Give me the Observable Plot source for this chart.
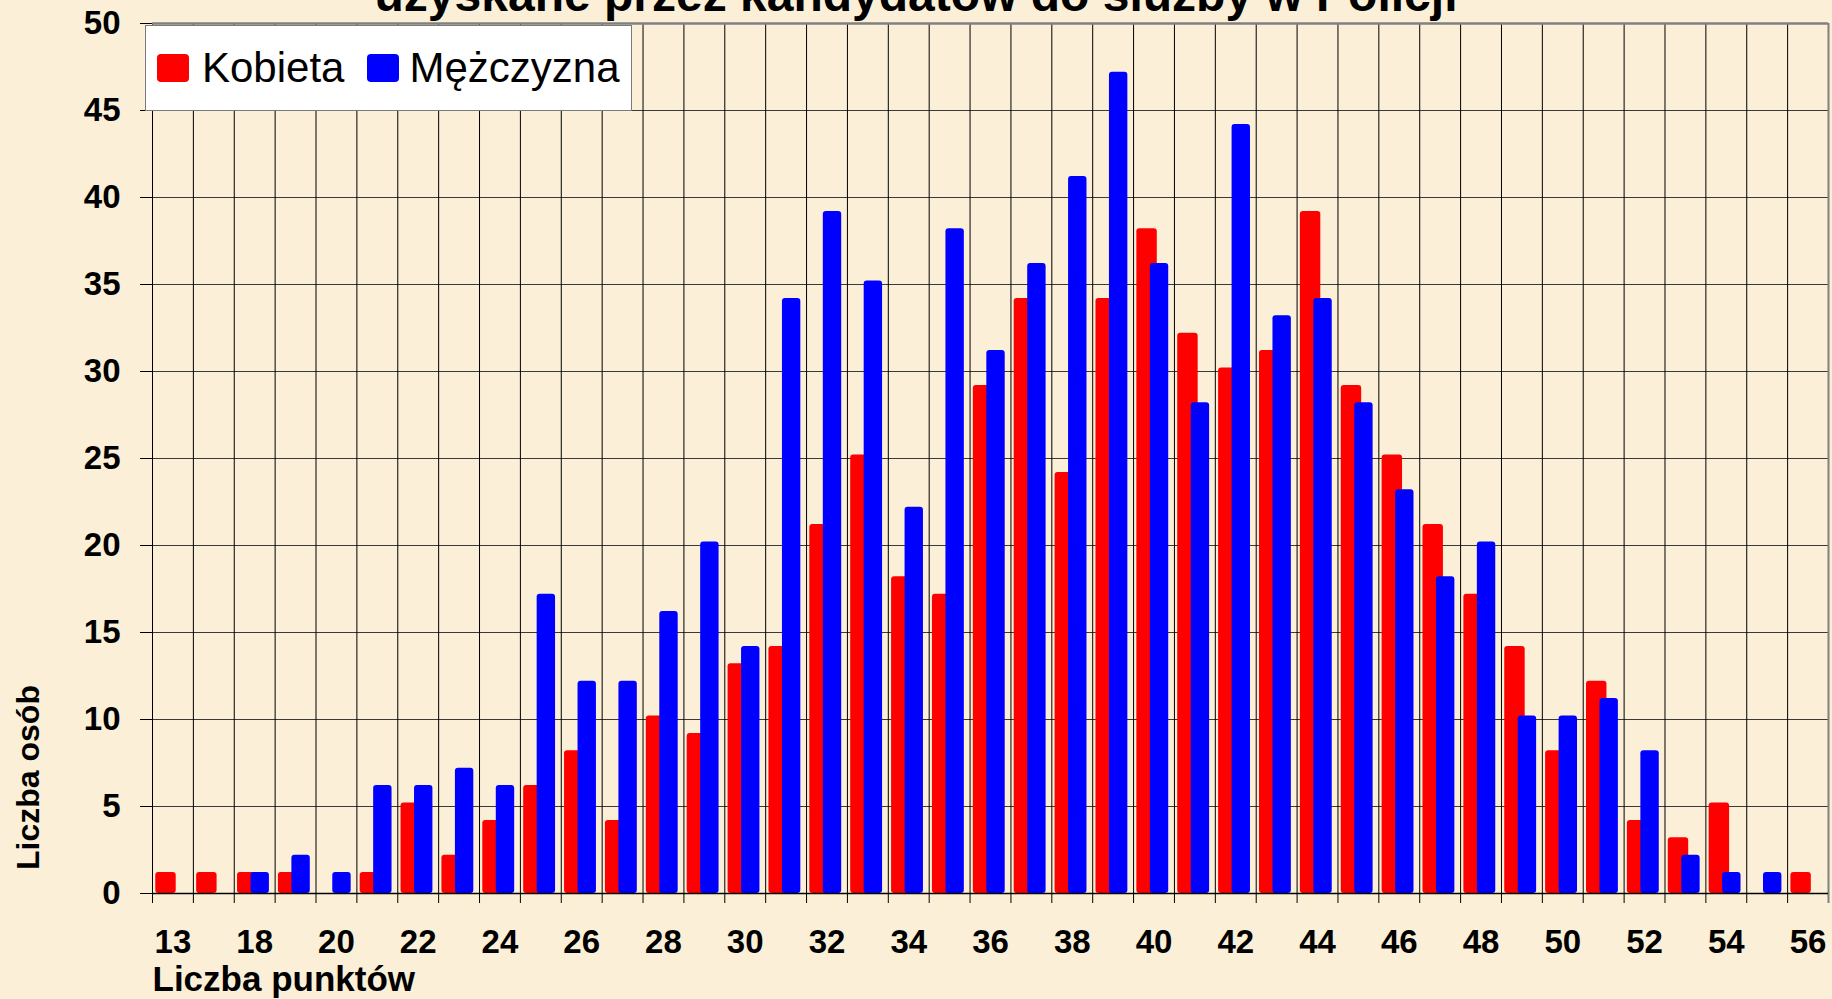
<!DOCTYPE html>
<html>
<head>
<meta charset="utf-8">
<script src="https://cdn.jsdelivr.net/npm/d3@7"></script>
<script src="https://cdn.jsdelivr.net/npm/@observablehq/plot@0.6"></script>
<style>
html,body{margin:0;padding:0;background:#fbefd7;}
#wrap{position:relative;width:1832px;height:999px;overflow:hidden;font-family:"Liberation Sans",Arial,sans-serif;background:#fbefd7;}
#title{position:absolute;left:0;top:-29px;width:1832px;text-align:center;font-weight:bold;font-size:48px;line-height:48px;color:#000;white-space:nowrap;}
#chart{position:absolute;left:0;top:0;}
#legend{position:absolute;left:145px;top:25px;width:485px;height:84px;background:#fff;border:1px solid #7a7a7a;display:flex;align-items:center;font-size:42px;color:#000;}
.sw{width:32px;height:28px;border-radius:4px;display:inline-block;flex:none;}
</style>
</head>
<body>
<div id="wrap">
  <div id="title">uzyskane przez kandydatów do służby w Policji</div>
  <div id="chart"></div>
  <div id="legend"></div>
</div>
<script>
// ---- data ----
const categories = ["13","17","18","19","20","21","22","23","24","25","26","27","28","29","30","31","32","33","34","35","36","37","38","39","40","41","42","43","44","45","46","47","48","49","50","51","52","53","54","55","56"];
const series = ["Kobieta", "Mężczyzna"];
const seriesColors = ["#ff0000", "#0000ff"];
const kobieta   = [1,1,1,1,0,1,5,2,4,6,8,4,10,9,13,14,21,25,18,17,29,34,24,34,38,32,30,31,39,29,25,21,17,14,8,12,4,3,5,0,1];
const mezczyzna = [0,0,1,2,1,6,6,7,6,17,12,12,16,20,14,34,39,35,22,38,31,36,41,47,36,28,44,33,34,28,23,18,20,10,10,11,8,2,1,1,0];
const yTicks = [0,5,10,15,20,25,30,35,40,45,50];
const xTickLabels = ["13","18","20","22","24","26","28","30","32","34","36","38","40","42","44","46","48","50","52","54","56"];
const xLabel = "Liczba punktów";
const yLabel = "Liczba osób";

// ---- layout ----
const W = 1832, H = 999, mL = 152, mR = 4, mT = 23, mB = 106;
const bw = (W - mL - mR) / categories.length;

const rows = categories.flatMap((c, i) => [
  {kat: c, seria: series[0], n: kobieta[i]},
  {kat: c, seria: series[1], n: mezczyzna[i]}
]);

const chart = Plot.plot({
  width: W, height: H,
  marginLeft: mL, marginRight: mR, marginTop: mT, marginBottom: mB,
  style: {background: "transparent", fontFamily: "'Liberation Sans', Arial, sans-serif", color: "#000"},
  x: {type: "band", domain: categories, padding: 0},
  y: {domain: [0, 50]},
  marks: [
    Plot.ruleY(yTicks, {stroke: "#3a3a3a", strokeWidth: 1}),
    Plot.ruleX(categories, {x: d => d, dx: -bw / 2, stroke: "#000", strokeWidth: 1, insetBottom: -10}),
    Plot.ruleX(categories.slice(-1), {x: d => d, dx: bw / 2, stroke: "#808080", strokeWidth: 2, insetBottom: -10}),
    Plot.ruleY(yTicks.slice(-1), {stroke: "#808080", strokeWidth: 2.5}),
    Plot.barY(rows.filter(d => d.seria === series[0] && d.n > 0), {
      x: "kat", y: "n", fill: seriesColors[0],
      insetLeft: bw * 0.08, insetRight: bw * 0.42, insetTop: -3.5, rx: 3
    }),
    Plot.barY(rows.filter(d => d.seria === series[1] && d.n > 0), {
      x: "kat", y: "n", fill: seriesColors[1],
      insetLeft: bw * 0.41, insetRight: bw * 0.14, insetTop: -3.5, rx: 3
    }),
    Plot.ruleY([0], {stroke: "#000", strokeWidth: 1.5}),
    Plot.axisY({ticks: yTicks, tickSize: 12, tickPadding: 20, fontSize: 33, fontWeight: "bold", label: null}),
    Plot.axisX({ticks: xTickLabels, tickSize: 0, tickPadding: 36, fontSize: 33, fontWeight: "bold", label: null}),
    Plot.text([xLabel], {text: d => d, frameAnchor: "bottom-left", textAnchor: "start", lineAnchor: "middle", dy: 86, fontSize: 35, fontWeight: "bold"}),
    Plot.text([yLabel], {text: d => d, frameAnchor: "bottom-left", textAnchor: "middle", lineAnchor: "middle", rotate: -90, dx: -124, dy: -116, fontSize: 32, fontWeight: "bold"})
  ]
});
document.getElementById("chart").appendChild(chart);

// ---- legend ----
const lg = document.getElementById("legend");
series.forEach((s, i) => {
  const sw = document.createElement("span");
  sw.className = "sw";
  sw.style.background = seriesColors[i];
  sw.style.marginLeft = i === 0 ? "11px" : "23px";
  sw.style.marginRight = i === 0 ? "13px" : "10px";
  const t = document.createElement("span");
  t.textContent = s;
  lg.appendChild(sw);
  lg.appendChild(t);
});
</script>
</body>
</html>
